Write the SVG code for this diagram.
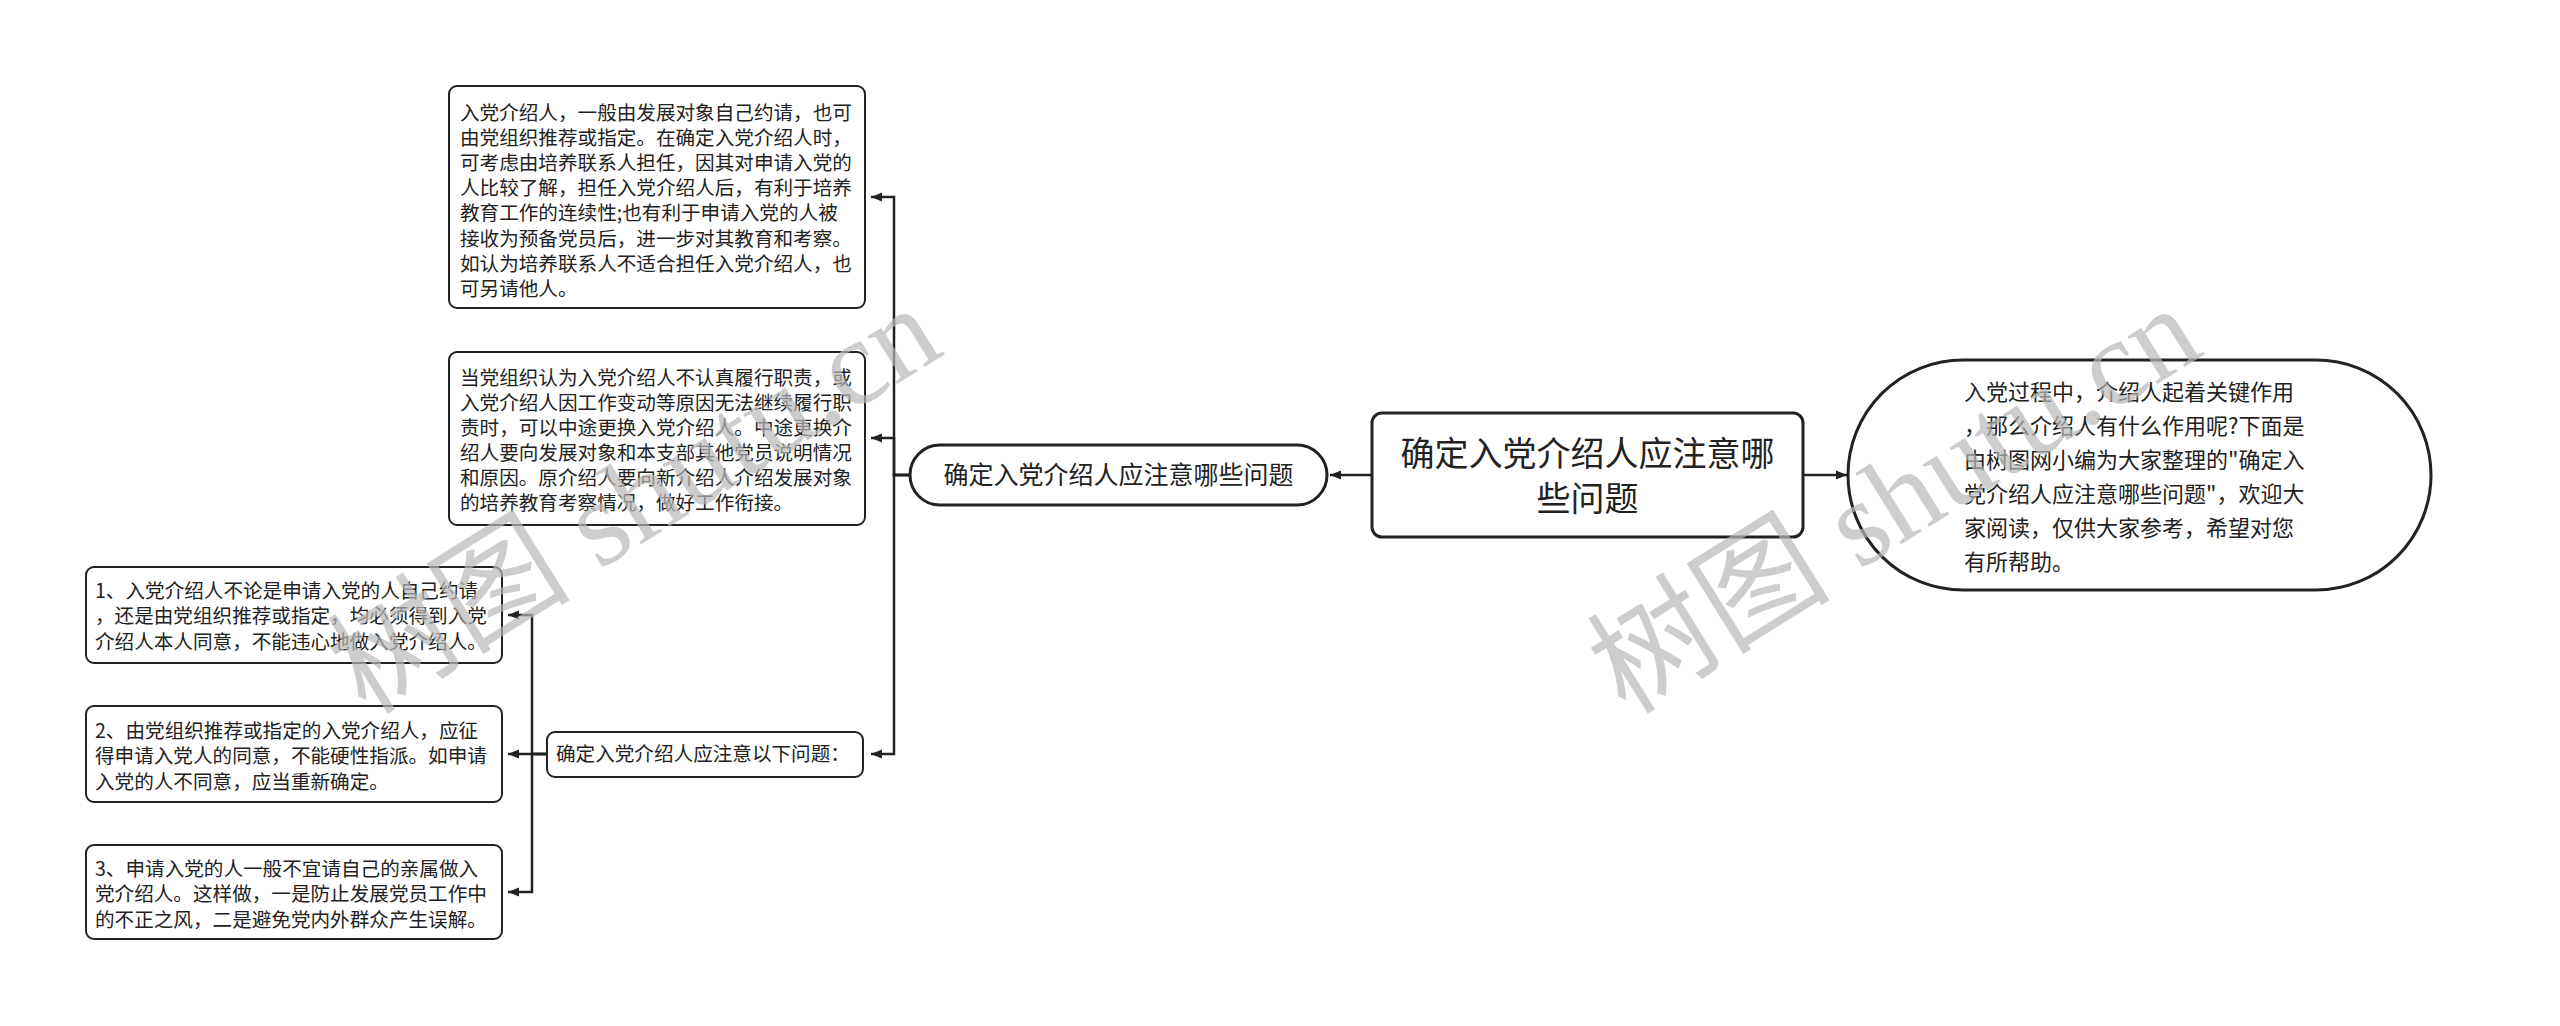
<svg xmlns="http://www.w3.org/2000/svg" width="2560" height="1026" viewBox="0 0 2560 1026">
<style>
  .bg { fill: #ffffff; }
  .box { fill: #ffffff; stroke: #222222; stroke-width: 2; }
  .boxb { fill: #ffffff; stroke: #222222; stroke-width: 3; }
  .t { font-family: "Noto Sans CJK SC", "Noto Sans", sans-serif; fill: #222222; }
  .s { font-size: 19.6px; }
  .m { font-size: 25px; }
  .n { font-size: 22px; }
  .r { font-size: 34px; }
  .edge { fill: none; stroke: #222222; stroke-width: 2.5; }
  .wm { font-family: "Liberation Serif", "Noto Sans CJK SC", serif; font-size: 122px; fill: #b8b8b8; opacity: 0.7; }
</style>
<defs>
  <marker id="arr" markerUnits="userSpaceOnUse" markerWidth="12" markerHeight="10" refX="11" refY="5" orient="auto">
    <path d="M0,0.5 L11,5 L0,9.5 z" fill="#222222"/>
  </marker>
</defs>
<rect class="bg" x="0" y="0" width="2560" height="1026"/>

<g id="connectors">
  <path class="edge" d="M1372,475 H1330" marker-end="url(#arr)"/>
  <path class="edge" d="M1803,475 H1847" marker-end="url(#arr)"/>
  <path class="edge" d="M910,475 H894 V197 H871" marker-end="url(#arr)"/>
  <path class="edge" d="M910,475 H894 V438 H871" marker-end="url(#arr)"/>
  <path class="edge" d="M910,475 H894 V754 H871" marker-end="url(#arr)"/>
  <path class="edge" d="M547,754 H532 V615 H508" marker-end="url(#arr)"/>
  <path class="edge" d="M547,754 H508" marker-end="url(#arr)"/>
  <path class="edge" d="M547,754 H532 V892 H508" marker-end="url(#arr)"/>
</g>

<g id="root">
  <rect class="boxb" x="1372" y="413" width="431" height="124" rx="10"/>
  <text class="t r" text-anchor="middle" x="1587.5" y="466">确定入党介绍人应注意哪</text>
  <text class="t r" text-anchor="middle" x="1587.5" y="511">些问题</text>
</g>

<g id="intro">
  <rect class="boxb" x="1848" y="360" width="583" height="230" rx="115" ry="115"/>
  <text class="t n">
    <tspan x="1964" y="400">入党过程中，介绍人起着关键作用</tspan>
    <tspan x="1964" y="434">，那么介绍人有什么作用呢?下面是</tspan>
    <tspan x="1964" y="468">由树图网小编为大家整理的"确定入</tspan>
    <tspan x="1964" y="502">党介绍人应注意哪些问题"，欢迎大</tspan>
    <tspan x="1964" y="536">家阅读，仅供大家参考，希望对您</tspan>
    <tspan x="1964" y="570">有所帮助。</tspan>
  </text>
</g>

<g id="topic">
  <rect class="boxb" x="910" y="445" width="417" height="60" rx="30"/>
  <text class="t m" text-anchor="middle" x="1118.5" y="484">确定入党介绍人应注意哪些问题</text>
</g>

<g id="node-a">
  <rect class="box" x="449" y="86" width="416" height="222" rx="8"/>
  <text class="t s">
    <tspan x="460" y="119.5">入党介绍人，一般由发展对象自己约请，也可</tspan>
    <tspan x="460" y="144.7">由党组织推荐或指定。在确定入党介绍人时，</tspan>
    <tspan x="460" y="169.9">可考虑由培养联系人担任，因其对申请入党的</tspan>
    <tspan x="460" y="195.1">人比较了解，担任入党介绍人后，有利于培养</tspan>
    <tspan x="460" y="220.3">教育工作的连续性;也有利于申请入党的人被</tspan>
    <tspan x="460" y="245.5">接收为预备党员后，进一步对其教育和考察。</tspan>
    <tspan x="460" y="270.7">如认为培养联系人不适合担任入党介绍人，也</tspan>
    <tspan x="460" y="295.9">可另请他人。</tspan>
  </text>
</g>

<g id="node-b">
  <rect class="box" x="449" y="352" width="416" height="173" rx="8"/>
  <text class="t s">
    <tspan x="460" y="384.5">当党组织认为入党介绍人不认真履行职责，或</tspan>
    <tspan x="460" y="409.5">入党介绍人因工作变动等原因无法继续履行职</tspan>
    <tspan x="460" y="434.5">责时，可以中途更换入党介绍人。中途更换介</tspan>
    <tspan x="460" y="459.5">绍人要向发展对象和本支部其他党员说明情况</tspan>
    <tspan x="460" y="484.5">和原因。原介绍人要向新介绍人介绍发展对象</tspan>
    <tspan x="460" y="509.5">的培养教育考察情况，做好工作衔接。</tspan>
  </text>
</g>

<g id="node-c">
  <rect class="box" x="547" y="732" width="316" height="45" rx="8"/>
  <text class="t s" x="556" y="761">确定入党介绍人应注意以下问题：</text>
</g>

<g id="leaf-1">
  <rect class="box" x="86" y="567" width="416" height="96" rx="8"/>
  <text class="t s">
    <tspan x="95" y="597.5">1、入党介绍人不论是申请入党的人自己约请</tspan>
    <tspan x="95" y="623">，还是由党组织推荐或指定，均必须得到入党</tspan>
    <tspan x="95" y="648.5">介绍人本人同意，不能违心地做入党介绍人。</tspan>
  </text>
</g>

<g id="leaf-2">
  <rect class="box" x="86" y="706" width="416" height="96" rx="8"/>
  <text class="t s">
    <tspan x="95" y="737.5">2、由党组织推荐或指定的入党介绍人，应征</tspan>
    <tspan x="95" y="763">得申请入党人的同意，不能硬性指派。如申请</tspan>
    <tspan x="95" y="788.5">入党的人不同意，应当重新确定。</tspan>
  </text>
</g>

<g id="leaf-3">
  <rect class="box" x="86" y="845" width="416" height="94" rx="8"/>
  <text class="t s">
    <tspan x="95" y="875.5">3、申请入党的人一般不宜请自己的亲属做入</tspan>
    <tspan x="95" y="901">党介绍人。这样做，一是防止发展党员工作中</tspan>
    <tspan x="95" y="926.5">的不正之风，二是避免党内外群众产生误解。</tspan>
  </text>
</g>

<g id="watermarks">
  <text class="wm" transform="translate(366,716) rotate(-32)">树图 shutu.cn</text>
  <text class="wm" transform="translate(1626,716) rotate(-32)">树图 shutu.cn</text>
</g>
</svg>
